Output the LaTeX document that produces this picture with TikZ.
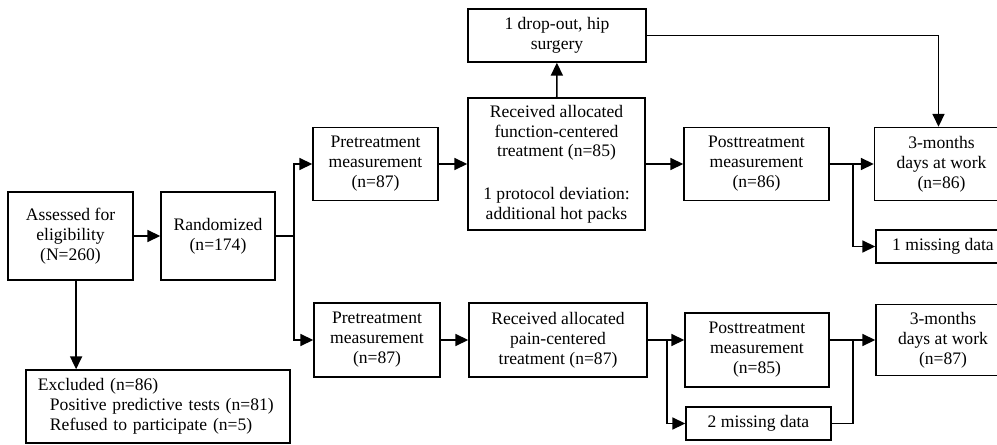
\documentclass[tikz,border=0pt]{standalone}
\usepackage{fontspec}
\setmainfont{Liberation Serif}
\usetikzlibrary{arrows.meta,positioning,calc}

\begin{document}
\begin{tikzpicture}[x=0.025cm,y=-0.025cm,
  every node/.style={font=\fontsize{12.5}{14.2}\selectfont},
  bx/.style 2 args={draw,line width=1.1pt,align=center,inner sep=0pt,minimum width=#1cm,minimum height=#2cm},
  ar/.style={-{Triangle[length=3.2mm,width=3mm]},line width=1.1pt},
  ln/.style={line width=1.1pt}]
 \useasboundingbox (0,0) rectangle (997,445);
 % left part
 \node[bx={3.125}{2.2}] (assess) at (70.5,236) {Assessed for\\eligibility\\(N=260)};
 \node[bx={2.85}{2.2}] (rand) at (218,236) {Randomized\\(n=174)};
 \node[bx={6.6}{1.825},align=left,text width=6.0cm] (excl) at (158,406.5)
   {Excluded (n=86)\\\hspace*{0.3cm}Positive predictive tests (n=81)\\\hspace*{0.3cm}Refused to participate (n=5)};
 % function-centered arm
 \node[bx={3.125}{1.825}] (pre1) at (375.5,164) {Pretreatment\\measurement\\(n=87)};
 \node[bx={4.425}{3.3}] (func) at (556.5,164) {Received allocated\\function-centered\\treatment (n=85)\\[16pt]1 protocol deviation:\\additional hot packs};
 \node[bx={4.45}{1.325}] (drop) at (557,35.5) {1 drop-out, hip\\surgery};
 \node[bx={3.625}{1.825}] (post1) at (756.5,164) {Posttreatment\\measurement\\(n=86)};
 \node[bx={3.35}{1.825}] (mo1) at (941.5,164) {3-months\\days at work\\(n=86)};
 \node[bx={3.35}{0.825}] (miss1) at (943,246.5) {1 missing data};
 % pain-centered arm
 \node[bx={3.15}{1.85}] (pre2) at (377,340) {Pretreatment\\measurement\\(n=87)};
 \node[bx={4.45}{1.85}] (pain) at (558,340) {Received allocated\\pain-centered\\treatment (n=87)};
 \node[bx={3.6}{1.85}] (post2) at (757,350) {Posttreatment\\measurement\\(n=85)};
 \node[bx={3.625}{0.825}] (miss2) at (758.5,423.5) {2 missing data};
 \node[bx={3.35}{1.775}] (mo2) at (943,340) {3-months\\days at work\\(n=87)};
 % connectors
 \coordinate (j1) at (294,236);
 \coordinate (j2) at (853,164);
 \coordinate (j3) at (667,340);
 \coordinate (j4) at (853,340);
 \draw[ar] (assess) -- (rand);
 \draw[ar] ([xshift=0.14cm]assess.south) -- ([xshift=0.14cm]assess.south |- excl.north);
 \draw[ln] (rand.east) -- (j1);
 \draw[ar] (j1) |- (pre1.west);
 \draw[ar] (j1) |- (pre2.west);
 \draw[ar] (pre1) -- (func);
 \draw[ar] (func) -- (drop);
 \draw[ar] (drop.east) -| ([xshift=-0.075cm]mo1.north);
 \draw[ar] (func) -- (post1);
 \draw[ar] (post1) -- (mo1);
 \draw[ar] (j2) |- (miss1.west);
 \draw[ar] (pre2) -- (pain);
 \draw[ar] (pain.east) -- (pain.east -| post2.west);
 \draw[ar] (j3) |- (miss2.west);
 \draw[ln] (post2.east |- j4) -- (j4);
 \draw[ln] (miss2.east) -| (j4);
 \draw[ar] (j4) -- (j4 -| mo2.west);
\end{tikzpicture}
\end{document}
